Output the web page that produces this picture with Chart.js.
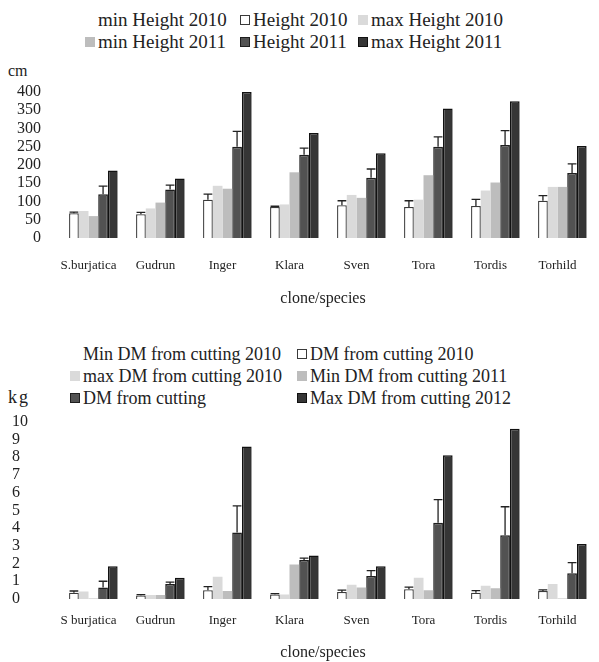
<!DOCTYPE html>
<html>
<head>
<meta charset="utf-8">
<script src="https://cdn.jsdelivr.net/npm/chart.js@4.4.1/dist/chart.umd.min.js"></script>
<style>
  body { margin: 0; background: #fff; width: 599px; height: 662px; position: relative; overflow: hidden;
         font-family: "Liberation Serif", "Times New Roman", serif; color: #222; }
  .legend { position: absolute; display: grid; font-size: 19px; line-height: 22px; white-space: nowrap; }
  .item { display: flex; align-items: center; }
  .box { width: 10px; height: 10px; margin-right: 3px; box-sizing: border-box; flex: none; }
  .unit { position: absolute; font-size: 16px; }
  canvas { position: absolute; left: 0; }
</style>
</head>
<body>
<div id="leg1" class="legend" style="left:85px; top:9px; grid-template-columns:155px 118px auto"></div>
<div class="unit" style="left:8px; top:62px">cm</div>
<canvas id="c1" width="599" height="250" style="top:62px"></canvas>

<div id="leg2" class="legend" style="left:70px; top:343px; font-size:18px; grid-template-columns:227px auto"></div>
<div class="unit" style="left:8px; top:387px; font-size:18px; letter-spacing:2px">kg</div>
<canvas id="c2" width="599" height="264" style="top:398px"></canvas>

<script>
// ── DATA ─────────────────────────────────────
const clones1 = ['S.burjatica', 'Gudrun', 'Inger', 'Klara', 'Sven', 'Tora', 'Tordis', 'Torhild'];
const clones2 = ['S burjatica', 'Gudrun', 'Inger', 'Klara', 'Sven', 'Tora', 'Tordis', 'Torhild'];

// height, cm
const heightLabels = ['min Height 2010', 'Height 2010', 'max Height 2010', 'min Height 2011', 'Height 2011', 'max Height 2011'];
const minHeight2010 = [null, null, null, null, null, null, null, null];
const height2010    = [68, 65, 105, 85, 90, 85, 88, 102];
const height2010Err = [3, 5, 15, 2, 12, 17, 18, 14];
const maxHeight2010 = [74, 81, 143, 92, 118, 105, 130, 140];
const minHeight2011 = [60, 97, 135, 180, 110, 172, 152, 140];
const height2011    = [120, 133, 250, 228, 165, 250, 255, 178];
const height2011Err = [22, 12, 42, 18, 24, 27, 39, 25];
const maxHeight2011 = [185, 163, 400, 288, 232, 355, 375, 252];
const heightTicks = [0, 50, 100, 150, 200, 250, 300, 350, 400];

// dry matter, kg
const dmLabels = ['Min DM from cutting 2010', 'DM from cutting 2010', 'max DM from cutting 2010',
                  'Min DM from cutting 2011', 'DM from cutting', 'Max DM from cutting 2012'];
const minDm2010 = [null, null, null, null, null, null, null, null];
const dm2010    = [0.35, 0.2, 0.5, 0.25, 0.4, 0.55, 0.35, 0.45];
const dm2010Err = [0.1, 0.05, 0.2, 0.05, 0.1, 0.12, 0.12, 0.07];
const maxDm2010 = [0.42, 0.22, 1.25, 0.25, 0.8, 1.2, 0.75, 0.85];
const minDm2011 = [0.03, 0.22, 0.45, 1.95, 0.65, 0.5, 0.6, 0.03];
const dm2011    = [0.65, 0.85, 3.75, 2.2, 1.3, 4.3, 3.6, 1.45];
const dm2011Err = [0.35, 0.1, 1.5, 0.1, 0.3, 1.3, 1.6, 0.6];
const maxDm2012 = [1.85, 1.2, 8.6, 2.45, 1.85, 8.1, 9.6, 3.1];
const dmTicks = [0, 1, 2, 3, 4, 5, 6, 7, 8, 9, 10];

// ── STİL ─────────────────────────────────────
const FONT = '"Liberation Serif", "Times New Roman", serif';
const LOOKS = [
  { backgroundColor: 'rgba(0,0,0,0)', borderColor: 'rgba(0,0,0,0)', borderWidth: 0 },
  { backgroundColor: '#ffffff', borderColor: '#3a3a3a', borderWidth: 1.3 },
  { backgroundColor: '#dadada', borderColor: 'rgba(0,0,0,0)', borderWidth: 0 },
  { backgroundColor: '#bdbdbd', borderColor: 'rgba(0,0,0,0)', borderWidth: 0 },
  { backgroundColor: '#525252', borderColor: '#1e1e1e', borderWidth: 1.5 },
  { backgroundColor: '#363636', borderColor: '#111111', borderWidth: 1.5 },
];

function buildDatasets(labels, series, errs) {
  return series.map((data, i) => ({
    label: labels[i],
    data,
    errorPlus: errs[i] || null,
    ...LOOKS[i],
    borderSkipped: 'bottom',
    categoryPercentage: 0.87,
    barPercentage: 1.0,
  }));
}

const errorBars = {
  id: 'errorBars',
  afterDatasetsDraw(chart) {
    const { ctx, scales: { y } } = chart;
    ctx.save();
    ctx.strokeStyle = '#222';
    ctx.lineWidth = 1.3;
    chart.data.datasets.forEach((ds, di) => {
      if (!ds.errorPlus) return;
      chart.getDatasetMeta(di).data.forEach((bar, i) => {
        const v = ds.data[i], e = ds.errorPlus[i];
        if (v == null || !e) return;
        const yTop = y.getPixelForValue(v + e);
        const half = bar.width * 0.45;
        ctx.beginPath();
        ctx.moveTo(bar.x, bar.y);
        ctx.lineTo(bar.x, yTop);
        ctx.moveTo(bar.x - half, yTop);
        ctx.lineTo(bar.x + half, yTop);
        ctx.stroke();
      });
    });
    ctx.restore();
  }
};

function makeLegend(el, chart) {
  chart.data.datasets.forEach((ds, i) => {
    const item = document.createElement('div');
    item.className = 'item';
    const box = document.createElement('span');
    box.className = 'box';
    box.style.background = ds.backgroundColor;
    box.style.border = ds.borderWidth ? '1px solid ' + ds.borderColor : 'none';
    if (i === 0) box.style.visibility = 'hidden';
    const txt = document.createElement('span');
    txt.textContent = ds.label;
    item.appendChild(box);
    item.appendChild(txt);
    el.appendChild(item);
  });
}

function makeChart(id, clones, datasets, ticks, pad, o) {
  return new Chart(document.getElementById(id), {
    type: 'bar',
    data: { labels: clones, datasets },
    options: {
      responsive: false, animation: false,
      layout: { padding: pad },
      plugins: { legend: { display: false }, tooltip: { enabled: false } },
      scales: {
        x: {
          afterFit: s => { s.height = o.xHeight; },
          grid: { display: false, drawTicks: false }, border: { display: false },
          ticks: { color: '#222', font: { family: FONT, size: 13 }, padding: o.xPad, maxRotation: 0, autoSkip: false },
          title: { display: true, text: 'clone/species', color: '#222', font: { family: FONT, size: 16 },
                   padding: { top: 0, bottom: 0 } }
        },
        y: {
          min: 0, max: ticks[ticks.length - 1],
          afterBuildTicks: s => { s.ticks = ticks.map(v => ({ value: v })); },
          afterFit: s => { s.width = o.width; },
          grid: { display: false, drawTicks: false }, border: { display: false },
          ticks: { color: '#222', font: { family: FONT, size: 16 }, padding: o.tickPad,
                   crossAlign: o.align, autoSkip: false }
        }
      }
    },
    plugins: [errorBars]
  });
}

// ── GRAFİKLER ─────────────────────────────────────
const chartHeight = makeChart('c1', clones1,
  buildDatasets(heightLabels,
    [minHeight2010, height2010, maxHeight2010, minHeight2011, height2011, maxHeight2011],
    [null, height2010Err, null, null, height2011Err, null]),
  heightTicks,
  { top: 30, right: 8, bottom: 4, left: 0 },
  { width: 55, tickPad: 14, align: 'near', xPad: 20, xHeight: 70 });
makeLegend(document.getElementById('leg1'), chartHeight);

const chartDm = makeChart('c2', clones2,
  buildDatasets(dmLabels,
    [minDm2010, dm2010, maxDm2010, minDm2011, dm2011, maxDm2012],
    [null, dm2010Err, null, null, dm2011Err, null]),
  dmTicks,
  { top: 16, right: 8, bottom: 0, left: 12 },
  { width: 43, tickPad: 14, align: 'far', xPad: 14, xHeight: 63 });
makeLegend(document.getElementById('leg2'), chartDm);
</script>
</body>
</html>
